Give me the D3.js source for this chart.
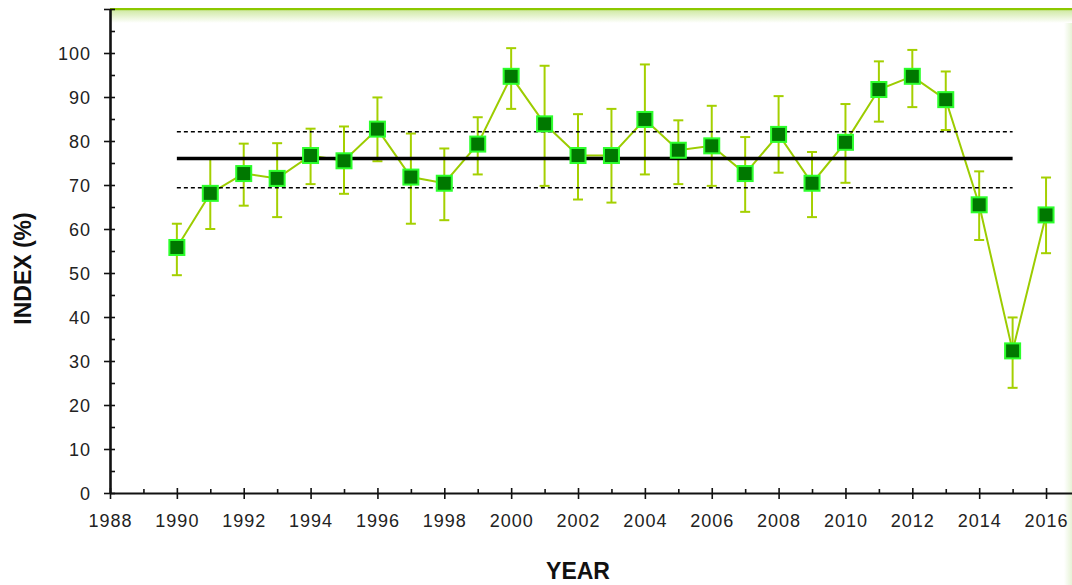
<!DOCTYPE html>
<html>
<head>
<meta charset="utf-8">
<script src="https://cdn.jsdelivr.net/npm/d3@7"></script>
<style>
  html, body { margin: 0; padding: 0; background: #fff; }
  svg { display: block; }
  .tick text { font-family: "Liberation Sans Narrow", "Liberation Sans", sans-serif; font-size: 18px; letter-spacing: 1px; fill: #222; }
  .title { font-family: "Liberation Sans Narrow", "Liberation Sans", sans-serif; font-weight: bold; font-size: 23px; fill: #111; }
</style>
</head>
<body>
<svg id="chart" width="1072" height="585"></svg>
<script>
// Annual index with its confidence range
const years = [1990, 1991, 1992, 1993, 1994, 1995, 1996, 1997, 1998, 1999,
               2000, 2001, 2002, 2003, 2004, 2005, 2006, 2007, 2008, 2009,
               2010, 2011, 2012, 2013, 2014, 2015, 2016];
const indexValues = [55.8, 68.1, 72.6, 71.5, 76.7, 75.5, 82.7, 71.8, 70.4, 79.3,
                     94.7, 83.9, 76.7, 76.7, 84.9, 77.9, 78.9, 72.6, 81.5, 70.4,
                     79.7, 91.7, 94.7, 89.4, 65.5, 32.3, 63.2];
const upperValues = [61.2, 76.0, 79.4, 79.5, 82.8, 83.3, 89.9, 81.7, 78.3, 85.4,
                     101.1, 97.1, 86.1, 87.3, 97.4, 84.7, 88.0, 80.9, 90.2, 77.5,
                     88.4, 98.1, 100.7, 95.8, 73.1, 39.9, 71.7];
const lowerValues = [49.5, 60.0, 65.3, 62.7, 70.2, 68.0, 75.4, 61.2, 62.0, 72.4,
                     87.3, 69.8, 66.7, 66.0, 72.4, 70.2, 69.8, 63.9, 72.8, 62.7,
                     70.5, 84.4, 87.7, 82.5, 57.5, 23.9, 54.5];

// Long-term mean and its band, drawn over the reference period
const meanIndex = 76.0;
const meanUpper = 82.1;
const meanLower = 69.4;
const meanPeriod = [1990, 2015];

const xMajorTicks = d3.range(1988, 2017, 2);
const xMinorTicks = d3.range(1989, 2018, 2);
const yMajorTicks = [0, 10, 20, 30, 40, 50, 60, 70, 80, 90, 100, 110];
const yMinorTicks = [5, 15, 25, 35, 45, 55, 65, 75, 85, 95, 105];

const svg = d3.select("#chart");
const W = 1072, H = 585;
const plotLeft = 110, plotBottom = 493, plotTop = 9;

const x = d3.scaleLinear().domain([1988, 2017]).range([plotLeft, plotLeft + 29 * 33.43]);
const y = d3.scaleLinear().domain([0, 110]).range([plotBottom, plotTop]);

// Frame decoration: green rule along the top, pale strip on the right
const defs = svg.append("defs");
const gTop = defs.append("linearGradient").attr("id", "topFade").attr("x1", 0).attr("y1", 0).attr("x2", 0).attr("y2", 1);
gTop.append("stop").attr("offset", "0%").attr("stop-color", "#cfe9a3");
gTop.append("stop").attr("offset", "100%").attr("stop-color", "#ffffff");
const gRight = defs.append("linearGradient").attr("id", "rightFade").attr("x1", 0).attr("y1", 0).attr("x2", 1).attr("y2", 0);
gRight.append("stop").attr("offset", "0%").attr("stop-color", "#ffffff");
gRight.append("stop").attr("offset", "100%").attr("stop-color", "#e6f3d6");

svg.append("rect").attr("x", 1064).attr("y", 10).attr("width", 8).attr("height", H - 10).attr("fill", "url(#rightFade)");
svg.append("rect").attr("x", plotLeft).attr("y", 10).attr("width", W - plotLeft).attr("height", 13).attr("fill", "url(#topFade)");
svg.append("rect").attr("x", plotLeft).attr("y", 8).attr("width", W - plotLeft).attr("height", 2.2).attr("fill", "#8cc800");

// Axes
const xAxis = svg.append("g").attr("transform", `translate(0,${plotBottom})`)
  .call(d3.axisBottom(x).tickValues(xMajorTicks).tickFormat(d3.format("d")).tickSize(6).tickSizeOuter(0));
xAxis.selectAll(".tick line").attr("y1", -5).attr("stroke", "#111").attr("stroke-width", 1.6);
xAxis.selectAll(".tick text").attr("y", 34).attr("dy", 0);
const xMinor = svg.append("g").attr("transform", `translate(0,${plotBottom})`)
  .call(d3.axisBottom(x).tickValues(xMinorTicks).tickFormat("").tickSize(-4).tickSizeOuter(0));
xMinor.select(".domain").remove();
xMinor.selectAll(".tick line").attr("stroke", "#111").attr("stroke-width", 1.6);
xAxis.select(".domain").attr("stroke", "#111").attr("stroke-width", 2.2);

const yAxis = svg.append("g").attr("transform", `translate(${plotLeft},0)`)
  .call(d3.axisLeft(y).tickValues(yMajorTicks).tickFormat(d => d === 110 ? "" : d).tickSize(6).tickSizeOuter(0));
yAxis.selectAll(".tick line").attr("x1", 5).attr("stroke", "#111").attr("stroke-width", 1.6);
yAxis.selectAll(".tick text").attr("x", -19).attr("dy", "0.34em");
const yMinor = svg.append("g").attr("transform", `translate(${plotLeft},0)`)
  .call(d3.axisLeft(y).tickValues(yMinorTicks).tickFormat("").tickSize(-5).tickSizeOuter(0));
yMinor.select(".domain").remove();
yMinor.selectAll(".tick line").attr("stroke", "#111").attr("stroke-width", 1.6);
yAxis.select(".domain").attr("stroke", "#111").attr("stroke-width", 2.6);

// Axis titles
svg.append("text").attr("class", "title")
  .attr("transform", `translate(31,${(217 + 320) / 2}) rotate(-90)`)
  .attr("text-anchor", "middle").text("INDEX (%)");
svg.append("text").attr("class", "title")
  .attr("x", 578).attr("y", 579).attr("text-anchor", "middle").text("YEAR");

// Series data
const rows = years.map((yr, i) => ({ yr, v: indexValues[i], hi: upperValues[i], lo: lowerValues[i] }));

// Connecting line
svg.append("path").datum(rows)
  .attr("fill", "none").attr("stroke", "#9ccc00").attr("stroke-width", 2)
  .attr("d", d3.line().x(d => x(d.yr)).y(d => y(d.v)));

// Error bars
const bars = svg.append("g").attr("stroke", "#a4d000").attr("stroke-width", 2);
bars.selectAll("line.v").data(rows).join("line").attr("class", "v")
  .attr("x1", d => x(d.yr)).attr("x2", d => x(d.yr))
  .attr("y1", d => y(d.hi)).attr("y2", d => y(d.lo));
bars.selectAll("line.hi").data(rows).join("line").attr("class", "hi")
  .attr("x1", d => x(d.yr) - 5).attr("x2", d => x(d.yr) + 5)
  .attr("y1", d => y(d.hi)).attr("y2", d => y(d.hi));
bars.selectAll("line.lo").data(rows).join("line").attr("class", "lo")
  .attr("x1", d => x(d.yr) - 5).attr("x2", d => x(d.yr) + 5)
  .attr("y1", d => y(d.lo)).attr("y2", d => y(d.lo));

// Mean and band lines
svg.append("line")
  .attr("x1", x(meanPeriod[0])).attr("x2", x(meanPeriod[1]))
  .attr("y1", y(meanIndex)).attr("y2", y(meanIndex))
  .attr("stroke", "#000").attr("stroke-width", 3.5);
[meanUpper, meanLower].forEach(v => {
  svg.append("line")
    .attr("x1", x(meanPeriod[0])).attr("x2", x(meanPeriod[1]))
    .attr("y1", y(v)).attr("y2", y(v))
    .attr("stroke", "#000").attr("stroke-width", 1.5).attr("stroke-dasharray", "4,3");
});

// Square markers
const s = 15;
svg.append("g").selectAll("rect").data(rows).join("rect")
  .attr("x", d => x(d.yr) - s / 2).attr("y", d => y(d.v) - s / 2)
  .attr("width", s).attr("height", s)
  .attr("fill", "#007800").attr("stroke", "#2cff2c").attr("stroke-width", 2);
</script>
</body>
</html>
